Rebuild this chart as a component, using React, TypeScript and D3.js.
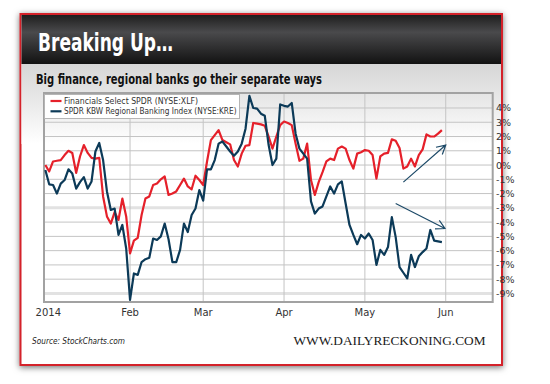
import React, { useEffect, useRef } from 'react';
import * as d3 from 'd3';

// daily % change since start of 2014 (trading-day index)
const xlf = [
  0.0, -0.45, 0.25, 0.3, 0.35, 0.7, 1.0, 0.85, -0.55, 0.6,
  1.4, 0.85, 0.5, 0.45, 0.5, -2.2, -3.6, -4.1, -3.3, -3.85,
  -2.35, -3.6, -6.2, -5.3, -5.1, -3.5, -2.35, -2.2, -1.4, -1.3,
  -1.0, -0.8, -2.1, -2.0, -1.85, -1.4, -0.95, -1.5, -1.7, -0.75,
  -1.05, -1.4, 0.25, 1.75, 2.1, 2.45, 1.75, 1.6, 1.45, 0.35,
  -0.1, 0.8, 1.35, 1.4, 2.95, 2.9, 2.85, 2.75, 2.0, 1.15,
  2.0, 2.8, 3.05, 2.95, 2.8, 1.5, 0.3, 0.45, 1.5, -1.05,
  -2.1, -1.2, -0.5, 0.25, 0.45, 0.35, 1.15, 1.3, 1.15, 0.35,
  -0.25, 0.8, 0.9, 1.05, 1.0, 0.7, -0.95, 0.6, 0.8, 0.85,
  1.8, 1.7, 1.2, -0.25, -0.1, 0.45, -0.1, 0.7, 1.1, 2.15,
  2.0, 2.0, 2.2, 2.45,
];

const kre = [
  -0.35, -1.35, -1.4, -2.0, -1.3, -1.05, -0.3, -0.6, -1.65, -1.2,
  -0.85, -1.65, -1.15, 0.95, 1.55, 0.35, -1.85, -3.15, -3.05, -4.9,
  -4.2, -5.85, -9.45, -7.6, -7.7, -6.8, -6.6, -6.5, -5.15, -5.25,
  -5.0, -4.1, -5.2, -6.8, -6.8, -5.95, -4.1, -4.7, -3.5, -3.05,
  -1.75, -2.5, -0.3, -0.3, 0.35, 1.5, 1.65, 1.3, 0.95, 0.65,
  0.95, 1.5, 2.55, 4.85, 4.0, 3.95, 3.6, 3.45, 1.4, 0.0,
  0.45, 4.25, 4.15, 4.1, 4.35, 2.2, 1.15, 0.8, 0.45, -2.55,
  -3.4, -3.05, -2.9, -2.2, -1.5, -2.0, -1.35, -1.15, -2.7, -4.2,
  -4.9, -5.55, -4.9, -5.15, -4.8, -5.25, -7.0, -5.95, -6.3, -5.75,
  -3.65, -5.05, -7.15, -7.55, -7.95, -6.3, -7.15, -6.4, -6.1, -5.85,
  -4.55, -5.3, -5.35, -5.4,
];

const monthLabels = ['2014', 'Feb', 'Mar', 'Apr', 'May', 'Jun'];
const monthIdx = [0, 22, 41, 62, 83, 104];
const yTicks = [-9, -8, -7, -6, -5, -4, -3, -2, -1, 0, 1, 2, 3, 4];

const seriesNames = ['Financials Select SPDR (NYSE:XLF)', 'SPDR KBW Regional Banking Index (NYSE:KRE)'];
const seriesColors = ['#e5202a', '#0c3a58'];

// annotation arrows: [fromIdx, fromVal, toIdx, toVal]
const arrows = [
  [93.0, -1.2, 104.0, 1.4],
  [91.0, -2.7, 103.8, -4.45],
];

const App = () => {
  const svgRef = useRef(null);

  useEffect(() => {
    if (!svgRef.current) return;
    d3.select(svgRef.current).selectAll('*').remove();
    const svg = d3.select(svgRef.current);

    const defs = svg.append('defs');
    const shadow = defs.append('filter').attr('id', 'shadow')
      .attr('x', '-10%').attr('y', '-10%').attr('width', '120%').attr('height', '120%');
    shadow.append('feDropShadow')
      .attr('dx', 0).attr('dy', 1.5).attr('stdDeviation', 3)
      .attr('flood-color', '#000').attr('flood-opacity', 0.55);

    const hdr = defs.append('linearGradient').attr('id', 'hdr')
      .attr('x1', 0).attr('y1', 0).attr('x2', 0).attr('y2', 1);
    hdr.append('stop').attr('offset', '0%').attr('stop-color', '#1e1e1e');
    hdr.append('stop').attr('offset', '35%').attr('stop-color', '#4a4a4c');
    hdr.append('stop').attr('offset', '100%').attr('stop-color', '#121212');

    const panel = defs.append('linearGradient').attr('id', 'panel')
      .attr('x1', 0).attr('y1', 0).attr('x2', 0).attr('y2', 1);
    panel.append('stop').attr('offset', '0%').attr('stop-color', '#d6d6d6');
    panel.append('stop').attr('offset', '100%').attr('stop-color', '#ffffff');

    // frame
    svg.append('rect')
      .attr('x', 20.5).attr('y', 14).attr('width', 481.5).attr('height', 351)
      .attr('fill', '#fff').attr('stroke', '#d4202a').attr('stroke-width', 2)
      .attr('filter', 'url(#shadow)');
    svg.append('rect')
      .attr('x', 21.5).attr('y', 64).attr('width', 479.5).attr('height', 80)
      .attr('fill', 'url(#panel)');
    svg.append('rect')
      .attr('x', 21.5).attr('y', 15).attr('width', 479.5).attr('height', 49)
      .attr('fill', 'url(#hdr)');

    svg.append('text')
      .attr('x', 38).attr('y', 51)
      .attr('fill', '#fff')
      .attr('font-family', "'Liberation Sans Narrow', 'DejaVu Sans Condensed', sans-serif")
      .attr('font-weight', 'bold').attr('font-size', 24)
      .attr('textLength', 135).attr('lengthAdjust', 'spacingAndGlyphs')
      .text('Breaking Up…');

    svg.append('text')
      .attr('x', 36).attr('y', 84)
      .attr('fill', '#111')
      .attr('font-family', "'Liberation Sans Narrow', 'DejaVu Sans Condensed', sans-serif")
      .attr('font-weight', 'bold').attr('font-size', 13.5)
      .attr('textLength', 286).attr('lengthAdjust', 'spacingAndGlyphs')
      .text('Big finance, regional banks go their separate ways');

    // plot
    const left = 44, right = 492.7, top = 93, bottom = 302;
    const x = d3.scaleLinear().domain([-0.35, 116.2]).range([left, right]);
    const y = d3.scaleLinear().domain([-9.6, 5.05]).range([bottom, top]);

    const g = svg.append('g');

    g.append('g')
      .selectAll('line')
      .data(yTicks)
      .enter()
      .append('line')
      .attr('x1', left).attr('x2', right)
      .attr('y1', d => y(d)).attr('y2', d => y(d))
      .attr('stroke', d => (d === -3 || d === -9) ? '#e2e2e2' : '#c4c4c4')
      .attr('stroke-width', d => (d === -3 || d === -9) ? 3 : 1);

    g.append('g')
      .selectAll('line')
      .data(monthIdx.slice(1))
      .enter()
      .append('line')
      .attr('x1', d => x(d)).attr('x2', d => x(d))
      .attr('y1', top).attr('y2', bottom)
      .attr('stroke', '#c4c4c4').attr('stroke-width', 1);

    g.append('rect')
      .attr('x', left).attr('y', top).attr('width', right - left).attr('height', bottom - top)
      .attr('fill', 'none').attr('stroke', '#a2a2a2').attr('stroke-width', 2);

    // y labels
    g.append('g')
      .selectAll('text')
      .data(yTicks)
      .enter()
      .append('text')
      .attr('x', 496).attr('y', d => y(d) + 3.5)
      .attr('fill', '#333')
      .attr('font-family', "'DejaVu Sans', sans-serif").attr('font-size', 9.5)
      .text(d => `${d}%`);

    // x labels
    g.append('g')
      .selectAll('text')
      .data(monthLabels)
      .enter()
      .append('text')
      .attr('x', (d, i) => x(monthIdx[i]) + (i === 0 ? 3 : 0))
      .attr('y', 316)
      .attr('text-anchor', 'middle')
      .attr('fill', '#333')
      .attr('font-family', "'DejaVu Sans', sans-serif").attr('font-size', 10)
      .text(d => d);

    const line = d3.line()
      .x((d, i) => x(i))
      .y(d => y(d));

    [xlf, kre].forEach((s, k) => {
      g.append('path')
        .datum(s)
        .attr('fill', 'none')
        .attr('stroke', seriesColors[k])
        .attr('stroke-width', 2.2)
        .attr('stroke-linejoin', 'round')
        .attr('d', line);
    });

    // legend
    const legend = g.append('g');
    legend.append('rect')
      .attr('x', 44.5).attr('y', 94.5).attr('width', 195).attr('height', 24)
      .attr('fill', '#fff').attr('stroke', '#b5b5b5').attr('stroke-width', 1);
    const lens = [134, 172.5];
    seriesNames.forEach((name, i) => {
      const ly = 101 + i * 10.3;
      legend.append('line')
        .attr('x1', 50.5).attr('x2', 61.5).attr('y1', ly).attr('y2', ly)
        .attr('stroke', seriesColors[i]).attr('stroke-width', 2.2);
      legend.append('text')
        .attr('x', 64).attr('y', ly + 3)
        .attr('fill', '#333')
        .attr('font-family', "'DejaVu Sans', sans-serif").attr('font-size', 8)
        .attr('textLength', lens[i]).attr('lengthAdjust', 'spacingAndGlyphs')
        .text(name);
    });

    // arrows
    arrows.forEach(([i0, v0, i1, v1]) => {
      const x0 = x(i0), y0 = y(v0), x1 = x(i1), y1 = y(v1);
      const ang = Math.atan2(y1 - y0, x1 - x0);
      const head = 10, spread = 0.5;
      g.append('path')
        .attr('d', `M${x0},${y0}L${x1},${y1}`
          + `M${x1 - head * Math.cos(ang - spread)},${y1 - head * Math.sin(ang - spread)}L${x1},${y1}`
          + `L${x1 - head * Math.cos(ang + spread)},${y1 - head * Math.sin(ang + spread)}`)
        .attr('fill', 'none')
        .attr('stroke', '#1d4a68')
        .attr('stroke-width', 1.2);
    });

    // footer
    svg.append('text')
      .attr('x', 32).attr('y', 344)
      .attr('fill', '#222')
      .attr('font-family', "'DejaVu Sans Condensed', 'Liberation Sans Narrow', sans-serif")
      .attr('font-style', 'italic').attr('font-size', 9)
      .attr('textLength', 93).attr('lengthAdjust', 'spacingAndGlyphs')
      .text('Source: StockCharts.com');

    svg.append('text')
      .attr('x', 293.5).attr('y', 344.5)
      .attr('fill', '#1a1a1a')
      .attr('font-family', "'Liberation Serif', 'DejaVu Serif', serif")
      .attr('font-size', 13)
      .attr('textLength', 192).attr('lengthAdjust', 'spacingAndGlyphs')
      .text('WWW.DAILYRECKONING.COM');
  }, []);

  return (
    <div style={{ position: 'absolute', left: 0, top: 0 }}>
      <svg ref={svgRef} width={550} height={384} style={{ display: 'block', background: '#fff' }}></svg>
    </div>
  );
};

export default App;
